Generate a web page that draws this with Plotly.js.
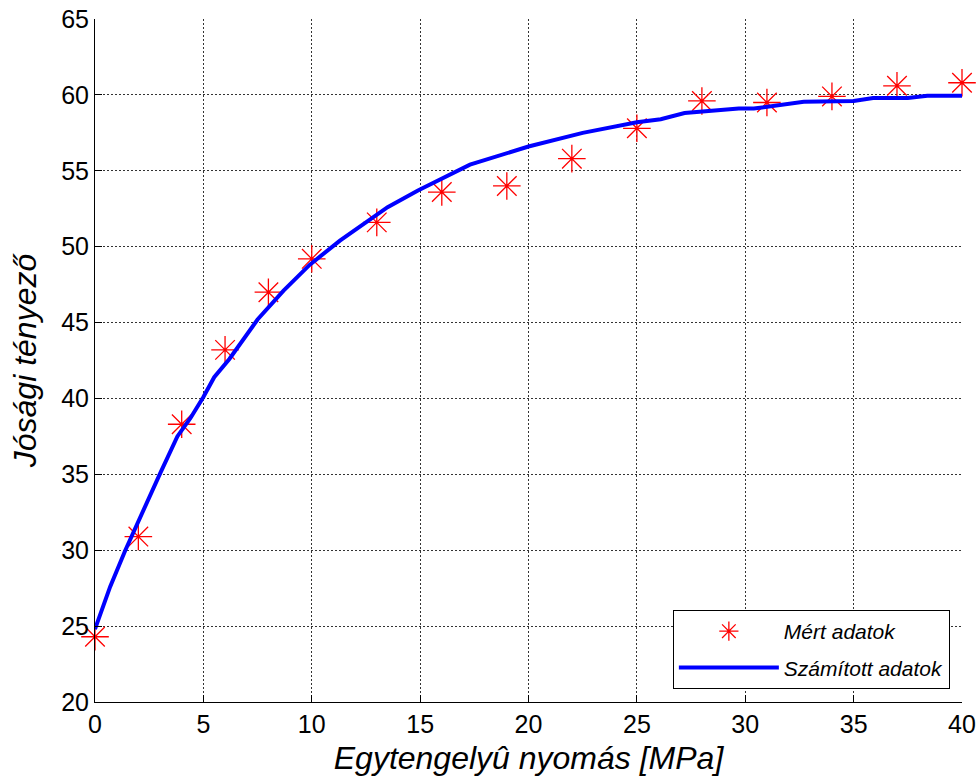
<!DOCTYPE html>
<html>
<head>
<meta charset="utf-8">
<script src="https://cdn.plot.ly/plotly-3.0.1.min.js"></script>
<style>html,body{margin:0;padding:0;background:#fff;}#chart{width:980px;height:783px;}</style>
</head>
<body>
<div id="chart"></div>
<script>
// Measured data (Mért adatok)
const measuredX = [0, 2, 4, 6, 8, 10, 13, 16, 19, 22, 25, 28, 31, 34, 37, 40];
const measuredY = [24.3, 30.9, 38.3, 43.2, 47.0, 49.2, 51.6, 53.6, 54.0, 55.8, 57.8, 59.6, 59.5, 59.9, 60.6, 60.8];

// Calculated curve (Számított adatok)
const calcX = [0, 0.7, 1.4, 2.2, 3.0, 3.8, 4.4, 5.0, 5.5, 6.2, 7.5, 8.7, 9.9, 11.3, 13.5, 14.9, 17.3, 20.0, 22.5, 25.0, 26.1, 27.2, 29.7, 30.4, 32.7, 35.0, 35.9, 37.5, 38.4, 40];
const calcY = [24.8, 27.6, 30.0, 32.6, 35.05, 37.5, 38.7, 40.1, 41.4, 42.6, 45.2, 47.1, 48.8, 50.4, 52.6, 53.7, 55.4, 56.6, 57.5, 58.2, 58.4, 58.8, 59.1, 59.1, 59.55, 59.6, 59.8, 59.8, 59.95, 59.95];

const xTicks = [0, 5, 10, 15, 20, 25, 30, 35, 40];
const yTicks = [20, 25, 30, 35, 40, 45, 50, 55, 60, 65];

const seriesNames = ['Mért adatok', 'Számított adatok'];
const xTitle = 'Egytengelyû nyomás [MPa]';
const yTitle = 'Jósági tényező';

const fontFam = 'Arial, "Liberation Sans", sans-serif';

const traces = [
  {
    x: measuredX, y: measuredY, name: seriesNames[0], legendgroup: 'm',
    type: 'scatter', mode: 'markers',
    marker: {symbol: 'asterisk-open', size: 23, color: '#ff0000', line: {color: '#ff2020', width: 1.3}},
    cliponaxis: false
  },
  {
    x: calcX, y: calcY, name: seriesNames[1], legendgroup: 'c',
    type: 'scatter', mode: 'lines',
    line: {color: '#0000ff', width: 4},
    cliponaxis: false
  }
];

const axisCommon = {
  showline: true, linecolor: '#000', linewidth: 1,
  ticks: 'inside', ticklen: 7, tickcolor: '#000', tickwidth: 1,
  showgrid: true, gridcolor: '#333', griddash: '2px,2px', gridwidth: 1,
  zeroline: false, mirror: false,
  tickfont: {family: fontFam, size: 25, color: '#000'}
};

const layout = {
  width: 980, height: 783,
  margin: {l: 95, r: 18, t: 19, b: 81},
  paper_bgcolor: '#fff', plot_bgcolor: '#fff',
  showlegend: true,
  xaxis: Object.assign({}, axisCommon, {
    range: [0, 40], tickvals: xTicks, ticktext: xTicks.map(String),
    title: {text: xTitle, font: {family: fontFam, size: 32, style: 'italic', color: '#000'}, standoff: 9}
  }),
  yaxis: Object.assign({}, axisCommon, {
    range: [20, 65], tickvals: yTicks, ticktext: yTicks.map(String),
    title: {text: yTitle, font: {family: fontFam, size: 32, style: 'italic', color: '#000'}, standoff: 14}
  }),
  legend: {
    x: 0.986, y: 0.019, xanchor: 'right', yanchor: 'bottom',
    bgcolor: '#fff', bordercolor: '#000', borderwidth: 1,
    font: {family: fontFam, size: 21, style: 'italic', color: '#000'},
    itemwidth: 100, traceorder: 'grouped', tracegroupgap: 6
  }
};

Plotly.newPlot('chart', traces, layout, {staticPlot: true, displayModeBar: false});
</script>
</body>
</html>
